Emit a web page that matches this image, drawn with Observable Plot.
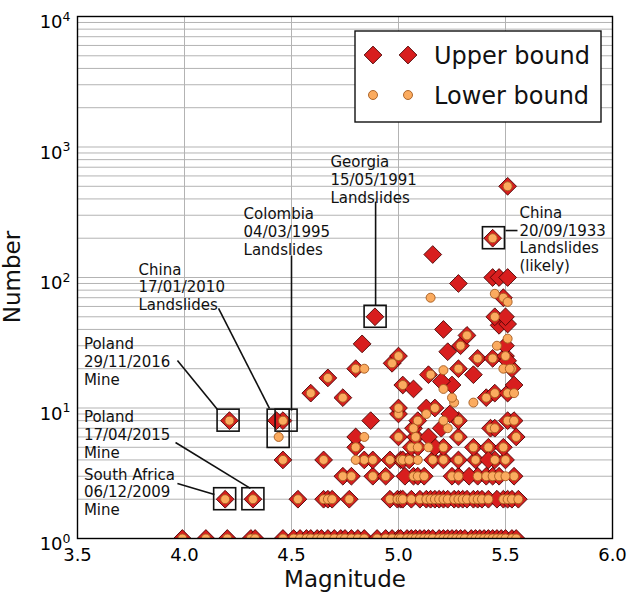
<!DOCTYPE html>
<html><head><meta charset="utf-8">
<script src="https://cdn.jsdelivr.net/npm/d3@7"></script>
<script src="https://cdn.jsdelivr.net/npm/@observablehq/plot@0.6"></script>
<style>
body{margin:0;background:#fff;}
#chart{width:629px;height:598px;}
</style></head><body><div id="chart"></div>
<script>
// ---- data: [magnitude, number] ----
// events whose upper and lower bound coincide
const sharedPoints = [
 [3.99,1],[4.10,1],[4.20,1],[4.31,1],[4.33,1],[4.46,1],[4.51,1],[4.54,1],[4.57,1],[4.59,1],[4.62,1],[4.64,1],[4.67,1],[4.70,1],[4.73,1],[4.75,1],[4.78,1],[4.81,1],[4.84,1],[4.90,1],[4.94,1],[4.97,1],[5.00,1],[5.01,1],[5.04,1],[5.06,1],[5.08,1],[5.10,1],[5.12,1],[5.14,1],[5.16,1],[5.19,1],[5.21,1],[5.23,1],[5.25,1],[5.27,1],[5.29,1],[5.31,1],[5.34,1],[5.36,1],[5.38,1],[5.40,1],[5.42,1],[5.44,1],[5.46,1],[5.48,1],[5.50,1],[5.53,1],[5.55,1],
 [4.19,2],[4.32,2],[4.53,2],[4.65,2],[4.67,2],[4.69,2],[4.77,2],[4.96,2],[4.995,2],[5.01,2],[5.02,2],[5.06,2],[5.10,2],[5.13,2],[5.15,2],[5.17,2],[5.19,2],[5.21,2],[5.23,2],[5.26,2],[5.28,2],[5.30,2],[5.32,2],[5.35,2],[5.37,2],[5.39,2],[5.42,2],[5.49,2],[5.51,2],[5.53,2],[5.56,2],
 [4.74,3],[4.78,3],[4.88,3],[4.94,3],[5.07,3],[5.09,3],[5.12,3],[5.25,3],[5.28,3],[5.37,3],[5.41,3],[5.44,3],[5.47,3],[5.54,3],
 [4.46,4],[4.65,4],[4.84,4],[4.88,4],[4.96,4],[5.01,4],[5.02,4],[5.05,4],[5.16,4],[5.21,4],[5.28,4],[5.36,4],[5.45,4],[5.50,4],
 [4.80,5],[5.06,5],[5.09,5],[5.21,5],[5.35,5],[5.42,5],[5.49,5],
 [5.00,6],[5.08,6],[5.28,6],[5.55,6],
 [5.07,7],[5.43,7],[5.45,7],
 [4.21,8],[4.46,8],[5.09,8],[5.28,8],[5.51,8],[5.54,8],
 [5.00,9],[5.00,10],[5.17,10],
 [4.74,12],[5.41,12],[4.59,13],[5.45,13],[5.51,13],[5.02,15],[4.67,17],
 [4.80,20],[5.28,20],[5.53,20],[4.97,22],[5.37,24],[5.44,24],[5.00,25],[5.50,25],
 [5.29,30],[5.32,36],[5.49,70],[5.44,200],[5.51,500]
];
// only the upper bound is shown at this position
const upperOnlyPoints = [
 [5.46,2],[5.03,3],[5.33,3],[5.42,4],[5.17,5],[4.80,6],[5.14,6],[5.20,7],[4.43,8],[4.87,8],
 [5.24,9],[5.13,10],[5.07,14],[5.25,15],[5.54,15],[5.20,16],[5.14,18],[5.35,18],[5.51,23],
 [5.23,27],[5.50,30],[4.83,31],[5.21,40],[5.47,43],[5.51,44],[4.89,50],[5.45,50],[5.50,50],
 [5.28,90],[5.44,100],[5.47,100],[5.51,100],[5.16,150]
];
// only the lower bound is shown at this position
const lowerOnlyPoints = [
 [5.50,3],[4.80,4],[5.09,4],[5.14,5],[4.44,6],[4.84,6],[5.23,7],[5.21,8],[5.13,9],
 [5.26,11],[5.35,11],[5.25,12],[5.54,13],[5.21,14],[5.15,18],[5.21,19.5],
 [4.84,20],[5.49,20],[5.52,20],[5.46,30],[5.51,34],[5.45,50],[5.51,65],[5.15,70],[5.45,75]
];

const xTicks = [3.5, 4.0, 4.5, 5.0, 5.5, 6.0];
const yTicks = [1, 10, 100, 1000, 10000];
const yGridValues = [1,2,3,4,5,6,7,8,9,10,20,30,40,50,60,70,80,90,100,200,300,400,500,600,700,800,900,1000,2000,3000,4000,5000,6000,7000,8000,9000,10000];
const seriesNames = ["Upper bound", "Lower bound"];

// annotations
const annoLabels = ["Georgia\n15/05/1991\nLandslides","Colombia\n04/03/1995\nLandslides","China\n17/01/2010\nLandslides","Poland\n29/11/2016\nMine","Poland\n17/04/2015\nMine","South Africa\n06/12/2009\nMine","China\n20/09/1933\nLandslides\n(likely)"];
const annoTextMag = [4.682, 4.276, 3.785, 3.530, 3.530, 3.530, 5.565];
const annoTextNum = [868, 347, 131, 35.0, 9.65, 3.50, 356];
const annoLineFrom = [[4.893,382],[4.5,147],[4.159,57.9],[3.967,23.1],[3.958,5.44],[3.967,2.64],[5.5,229]];
const annoLineTo = [[4.893,61],[4.5,9.56],[4.397,9.92],[4.154,9.75],[4.308,2.42],[4.14,2.17],[5.556,229]];
const boxMag = [4.893, 4.477, 4.44, 4.206, 4.322, 4.19, 5.446];
const boxLo = [50, 8, 6, 8, 2, 2, 200];
const boxHi = [50, 8, 8, 8, 2, 2, 200];

// ---- build tables ----
const upper = sharedPoints.concat(upperOnlyPoints).map(([m,n]) => ({m, n}));
const lower = sharedPoints.concat(lowerOnlyPoints).map(([m,n]) => ({m, n}));
const annos = annoLabels.map((label, i) => ({
  label, tx: annoTextMag[i], ty: annoTextNum[i],
  x1: annoLineFrom[i][0], y1: annoLineFrom[i][1], x2: annoLineTo[i][0], y2: annoLineTo[i][1],
  bm: boxMag[i], blo: boxLo[i], bhi: boxHi[i]
}));

const RED = "#d81e1e", RED_EDGE = "#4a0505", ORANGE = "#fbab5f", ORANGE_EDGE = "#a55a1e";
const FONT = "DejaVu Sans, sans-serif";
const DIAMOND_R = 8;

const chart = Plot.plot({
  width: 629, height: 598,
  marginLeft: 77, marginRight: 17, marginTop: 16, marginBottom: 60,
  style: {fontFamily: FONT, background: "white", color: "black"},
  x: {domain: [3.5, 6.0]},
  y: {type: "log", domain: [1, 10000]},
  marks: [
    Plot.ruleX(xTicks, {stroke: "#b3b3b3", strokeWidth: 1}),
    Plot.ruleY(yGridValues, {stroke: "#b3b3b3", strokeWidth: 1}),
    Plot.dot(upper, {x: "m", y: "n", symbol: "diamond2", r: DIAMOND_R, fill: RED, stroke: RED_EDGE, strokeWidth: 0.9, clip: true}),
    Plot.dot(lower, {x: "m", y: "n", r: 4.5, fill: ORANGE, stroke: ORANGE_EDGE, strokeWidth: 0.9, clip: true}),
    Plot.rect(annos, {x1: "bm", x2: "bm", y1: "blo", y2: "bhi", inset: -11, fill: "none", stroke: "#111", strokeWidth: 1.6}),
    Plot.link(annos, {x1: "x1", y1: "y1", x2: "x2", y2: "y2", stroke: "#111", strokeWidth: 1.6}),
    Plot.text(annos, {x: "tx", y: "ty", text: "label", textAnchor: "start", lineAnchor: "top", lineHeight: 1.17, fontSize: 15, fill: "#111", fontFamily: FONT}),
    Plot.frame({stroke: "black", strokeWidth: 1.4}),
    Plot.axisX({ticks: xTicks, tickFormat: d3.format(".1f"), tickSize: 0, tickPadding: 10, fontSize: 18, label: null}),
    Plot.axisY({ticks: yTicks, tickFormat: d => "10^" + Math.round(Math.log10(d)), tickSize: 0, tickPadding: 7, fontSize: 18, label: null})
  ]
});
document.getElementById("chart").appendChild(chart);

const svg = d3.select(chart);
// superscript tick labels
svg.selectAll('g[aria-label="y-axis tick label"] text').each(function() {
  const t = d3.select(this);
  const m = /^10\^(\d+)$/.exec(t.text());
  if (!m) return;
  t.text(null).attr("dy", "0.32em");
  t.append("tspan").text("10");
  t.append("tspan").attr("dy", "-0.6em").attr("font-size", "12.5px").text(m[1]);
});

// axis titles
svg.append("text").attr("x", 345).attr("y", 587).attr("text-anchor", "middle")
  .attr("font-family", FONT).attr("font-size", 23).attr("fill", "#111").text("Magnitude");
svg.append("text").attr("transform", "translate(20,277) rotate(-90)").attr("text-anchor", "middle")
  .attr("font-family", FONT).attr("font-size", 23).attr("fill", "#111").text("Number");

// legend
const lg = svg.append("g").attr("aria-label", "legend");
lg.append("rect").attr("x", 355).attr("y", 31).attr("width", 246).attr("height", 91)
  .attr("fill", "white").attr("stroke", "#111").attr("stroke-width", 1.4);
const diamond = d3.symbol(d3.symbolDiamond2, Math.PI * DIAMOND_R * DIAMOND_R)();
[373, 408].forEach(x => {
  lg.append("path").attr("d", diamond).attr("transform", `translate(${x},55)`)
    .attr("fill", RED).attr("stroke", RED_EDGE).attr("stroke-width", 0.9);
  lg.append("circle").attr("cx", x).attr("cy", 95).attr("r", 4.5)
    .attr("fill", ORANGE).attr("stroke", ORANGE_EDGE).attr("stroke-width", 0.9);
});
seriesNames.forEach((name, i) => {
  lg.append("text").attr("x", 434).attr("y", 55 + 40 * i).attr("dy", "0.36em")
    .attr("text-anchor", "start")
    .attr("font-family", FONT).attr("font-size", 24).attr("fill", "#111").text(name);
});
</script></body></html>
